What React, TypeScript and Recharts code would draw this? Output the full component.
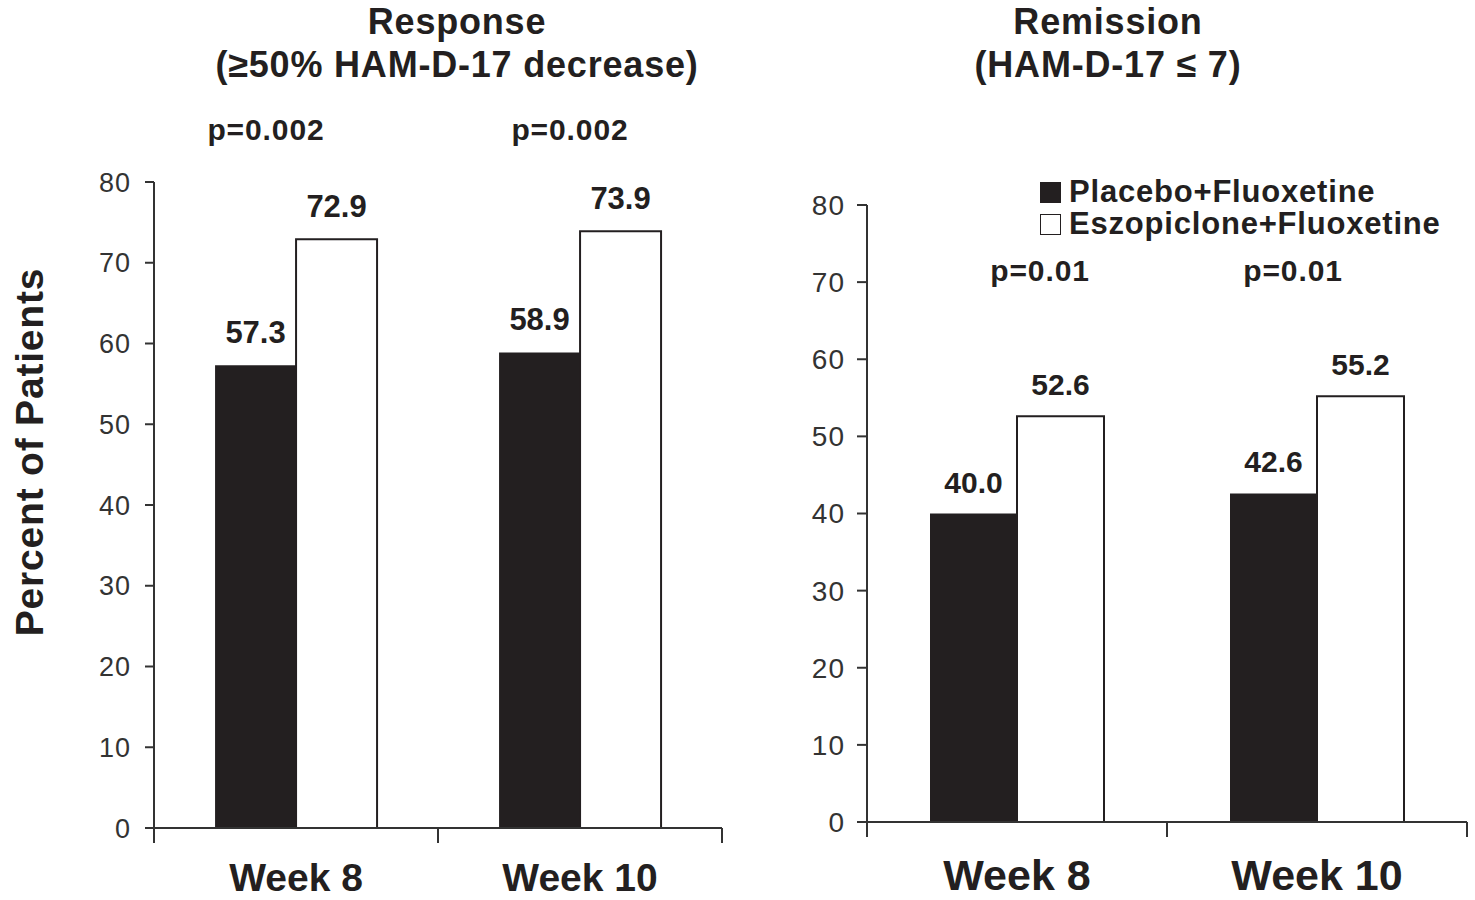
import React from "react";
import {
  Bar,
  BarChart,
  LabelList,
  Legend,
  XAxis,
  YAxis,
} from "recharts";

const categories = ["Week 8", "Week 10"];
const responsePlacebo = [57.3, 58.9];
const responseEszopiclone = [72.9, 73.9];
const remissionPlacebo = [40.0, 42.6];
const remissionEszopiclone = [52.6, 55.2];
const responsePValues = ["p=0.002", "p=0.002"];
const remissionPValues = ["p=0.01", "p=0.01"];
const yTicks = [0, 10, 20, 30, 40, 50, 60, 70, 80];
const seriesNames = ["Placebo+Fluoxetine", "Eszopiclone+Fluoxetine"];

const INK = "#231f20";
const AXIS = "#333";
const FONT = "'Liberation Sans', Arial, Helvetica, sans-serif";

const responseData = categories.map((week, i) => ({
  week,
  placebo: responsePlacebo[i],
  eszopiclone: responseEszopiclone[i],
}));

const remissionData = categories.map((week, i) => ({
  week,
  placebo: remissionPlacebo[i],
  eszopiclone: remissionEszopiclone[i],
}));

const fmt = (v: any) => Number(v).toFixed(1);

// category tick: label plus tick marks on both edges of the band
function WeekTick({ x, y, payload, fontSize, textDy }: any) {
  const half = payload?.offset ?? 0;
  return (
    <g>
      <line x1={x - half} x2={x - half} y1={y} y2={y + 15} stroke={AXIS} strokeWidth={2} />
      <line x1={x + half} x2={x + half} y1={y} y2={y + 15} stroke={AXIS} strokeWidth={2} />
      <text
        x={x}
        y={y + textDy}
        textAnchor="middle"
        fontSize={fontSize}
        fontWeight={700}
        fill={INK}
        fontFamily={FONT}
      >
        {payload.value}
      </text>
    </g>
  );
}

function LegendBox({ payload }: any) {
  const items = [...(payload ?? [])].sort(
    (a: any, b: any) => seriesNames.indexOf(a.value) - seriesNames.indexOf(b.value)
  );
  return (
    <div style={{ fontFamily: FONT, fontWeight: 700, fontSize: 31, color: INK }}>
      {items.map((entry: any, i: number) => (
        <div
          key={`leg-${i}`}
          style={{ display: "flex", alignItems: "center", height: 32, letterSpacing: 0.8 }}
        >
          <span
            style={{
              display: "inline-block",
              width: 21,
              height: 21,
              marginRight: 8,
              boxSizing: "border-box",
              background: entry.value === seriesNames[0] ? INK : "#fff",
              border: `1.5px solid ${INK}`,
            }}
          />
          {entry.value}
        </div>
      ))}
    </div>
  );
}

const textStyle: React.CSSProperties = {
  position: "absolute",
  fontFamily: FONT,
  fontWeight: 700,
  color: INK,
  whiteSpace: "nowrap",
  transform: "translateX(-50%)",
  textAlign: "center",
};

export default function App() {
  return (
    <div
      style={{
        position: "absolute",
        left: 0,
        top: 0,
        width: 1475,
        height: 900,
        background: "#fff",
        fontFamily: FONT,
      }}
    >
      {/* left panel: response */}
      <div style={{ position: "absolute", left: 0, top: 0 }}>
        <BarChart
          width={740}
          height={900}
          data={responseData}
          margin={{ top: 182, right: 18, bottom: 0, left: 0 }}
          barCategoryGap="21.5%"
          barGap={0}
        >
          <XAxis
            dataKey="week"
            tickLine={false}
            tickSize={0}
            tickMargin={0}
            height={72}
            interval={0}
            stroke={AXIS}
            strokeWidth={2}
            tick={<WeekTick fontSize={39} textDy={63} />}
          />
          <YAxis
            width={154}
            domain={[0, 80]}
            ticks={yTicks}
            tickSize={9}
            tickMargin={14}
            stroke={AXIS}
            strokeWidth={2}
            tick={{ fontSize: 27, fill: AXIS, fontFamily: FONT, letterSpacing: 1 }}
          />
          <Bar dataKey="placebo" name={seriesNames[0]} fill={INK} isAnimationActive={false}>
            <LabelList
              dataKey="placebo"
              position="top"
              offset={22}
              formatter={fmt}
              style={{ fontSize: 31, fontWeight: 700, fill: INK, fontFamily: FONT }}
            />
          </Bar>
          <Bar
            dataKey="eszopiclone"
            name={seriesNames[1]}
            fill="#fff"
            stroke={INK}
            strokeWidth={2}
            isAnimationActive={false}
          >
            <LabelList
              dataKey="eszopiclone"
              position="top"
              offset={22}
              formatter={fmt}
              style={{ fontSize: 31, fontWeight: 700, fill: INK, fontFamily: FONT, stroke: "none" }}
            />
          </Bar>
        </BarChart>
      </div>

      {/* right panel: remission */}
      <div style={{ position: "absolute", left: 740, top: 0 }}>
        <BarChart
          width={735}
          height={900}
          data={remissionData}
          margin={{ top: 205, right: 8, bottom: 0, left: 0 }}
          barCategoryGap="21%"
          barGap={0}
        >
          <XAxis
            dataKey="week"
            tickLine={false}
            tickSize={0}
            tickMargin={0}
            height={78}
            interval={0}
            stroke={AXIS}
            strokeWidth={2}
            tick={<WeekTick fontSize={43} textDy={68} />}
          />
          <YAxis
            width={127}
            domain={[0, 80]}
            ticks={yTicks}
            tickSize={10}
            tickMargin={12}
            stroke={AXIS}
            strokeWidth={2}
            tick={{ fontSize: 28, fill: AXIS, fontFamily: FONT, letterSpacing: 1 }}
          />
          <Legend
            layout="horizontal"
            verticalAlign="middle"
            align="center"
            content={<LegendBox />}
            wrapperStyle={{ left: 300, top: 176, width: 430, height: 70 }}
          />
          <Bar dataKey="placebo" name={seriesNames[0]} fill={INK} isAnimationActive={false}>
            <LabelList
              dataKey="placebo"
              position="top"
              offset={21}
              formatter={fmt}
              style={{ fontSize: 30, fontWeight: 700, fill: INK, fontFamily: FONT }}
            />
          </Bar>
          <Bar
            dataKey="eszopiclone"
            name={seriesNames[1]}
            fill="#fff"
            stroke={INK}
            strokeWidth={2}
            isAnimationActive={false}
          >
            <LabelList
              dataKey="eszopiclone"
              position="top"
              offset={21}
              formatter={fmt}
              style={{ fontSize: 30, fontWeight: 700, fill: INK, fontFamily: FONT, stroke: "none" }}
            />
          </Bar>
        </BarChart>
      </div>

      {/* titles */}
      <div style={{ ...textStyle, left: 457, top: 0, fontSize: 36, lineHeight: "43px", letterSpacing: 0.8 }}>
        Response
        <br />
        (≥50% HAM-D-17 decrease)
      </div>
      <div style={{ ...textStyle, left: 1108, top: 0, fontSize: 36, lineHeight: "43px", letterSpacing: 0.8 }}>
        Remission
        <br />
        (HAM-D-17 ≤ 7)
      </div>

      {/* p-values */}
      {responsePValues.map((p, i) => (
        <div
          key={`rp-${i}`}
          style={{ ...textStyle, left: [266, 570][i], top: 113, fontSize: 30, letterSpacing: 0.9 }}
        >
          {p}
        </div>
      ))}
      {remissionPValues.map((p, i) => (
        <div
          key={`mp-${i}`}
          style={{ ...textStyle, left: [1040, 1293][i], top: 254, fontSize: 30, letterSpacing: 0.9 }}
        >
          {p}
        </div>
      ))}

      {/* y-axis title */}
      <div
        style={{
          position: "absolute",
          left: 30,
          top: 452,
          transform: "translate(-50%, -50%) rotate(-90deg)",
          fontFamily: FONT,
          fontWeight: 700,
          fontSize: 39,
          color: INK,
          whiteSpace: "nowrap",
          letterSpacing: 0.8,
        }}
      >
        Percent of Patients
      </div>
    </div>
  );
}
